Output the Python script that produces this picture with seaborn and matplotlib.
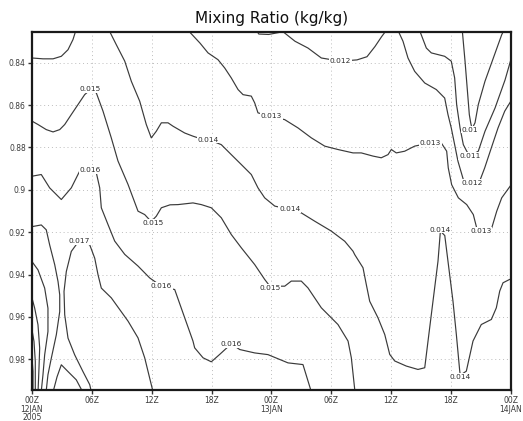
import matplotlib
matplotlib.use("Agg")
import matplotlib.pyplot as plt
import seaborn as sns
import pandas as pd

# ---- traced isolines of mixing ratio (kg/kg): time in hours since 00Z 12JAN2005, sigma level ----
iso_014_corner_t = [0.0, 1.10, 2.11, 2.94, 3.61, 4.11, 4.45]
iso_014_corner_s = [0.8378, 0.8382, 0.8382, 0.8370, 0.8339, 0.8291, 0.8240]

iso_015_t = [0.0, 0.60, 1.43, 2.11, 2.78, 3.28, 3.94, 4.61, 5.28, 5.84,
             6.45, 7.12, 7.95, 8.62, 9.63, 10.63, 11.30, 11.95, 12.46, 12.97,
             13.84, 14.64, 16.14, 16.98, 17.98, 18.98, 19.98, 20.99, 22.33, 23.33,
             23.85, 25.34, 26.00, 27.00, 27.67, 29.01, 30.68, 31.69, 32.02, 32.40]
iso_015_s = [0.8676, 0.8692, 0.8716, 0.8727, 0.8716, 0.8692, 0.8645, 0.8598, 0.8551, 0.8528,
             0.8543, 0.8629, 0.8755, 0.8864, 0.8975, 0.9101, 0.9117, 0.9150, 0.9125, 0.9085,
             0.9071, 0.9070, 0.9062, 0.9070, 0.9085, 0.9132, 0.9211, 0.9274, 0.9353, 0.9423,
             0.9455, 0.9455, 0.9431, 0.9431, 0.9463, 0.9557, 0.9636, 0.9714, 0.9793, 0.9960]

iso_016_t = [0.0, 0.93, 1.77, 2.94, 3.94, 4.78, 5.83, 6.45, 6.79, 6.95,
             7.62, 8.29, 9.30, 10.63, 11.80, 12.97, 14.31, 15.31, 16.14, 16.31,
             17.15, 17.98, 18.82, 19.98, 20.83, 22.33, 23.66, 25.67, 27.17, 28.05]
iso_016_s = [0.8936, 0.8928, 0.8991, 0.9046, 0.8991, 0.8912, 0.8905, 0.8920, 0.8991, 0.9085,
             0.9164, 0.9242, 0.9305, 0.9360, 0.9416, 0.9455, 0.9471, 0.9604, 0.9714, 0.9746,
             0.9793, 0.9812, 0.9777, 0.9727, 0.9754, 0.9770, 0.9778, 0.9817, 0.9825, 0.9960]

iso_017_t = [5.98, 5.79, 5.11, 4.28, 3.61, 3.28, 3.21, 3.44, 3.94, 4.70,
             5.79, 6.29, 6.62, 6.95, 7.95, 9.63, 10.63, 11.30, 12.17]
iso_017_s = [0.9960, 0.9920, 0.9858, 0.9779, 0.9700, 0.9590, 0.9480, 0.9386, 0.9291, 0.9242,
             0.9260, 0.9323, 0.9401, 0.9464, 0.9510, 0.9620, 0.9699, 0.9793, 0.9960]

iso_017_left_t = [0.0, 0.93, 1.43, 1.77, 2.28, 2.61, 2.78, 2.78, 2.44, 1.94, 1.60, 1.40]
iso_017_left_s = [0.9174, 0.9166, 0.9189, 0.9260, 0.9354, 0.9433, 0.9496, 0.9575, 0.9684, 0.9794, 0.9873, 0.9960]

iso_018_t = [0.0, 0.60, 1.27, 1.60, 1.60, 1.27, 1.10, 0.91]
iso_018_s = [0.9339, 0.9378, 0.9464, 0.9559, 0.9669, 0.9779, 0.9873, 0.9960]

iso_019_t = [0.0, 0.27, 0.60, 0.77, 0.70, 0.60]
iso_019_s = [0.9511, 0.9559, 0.9637, 0.9747, 0.9842, 0.9960]

iso_020_t = [0.0, 0.20, 0.33, 0.33]
iso_020_s = [0.9661, 0.9716, 0.9810, 0.9960]

iso_021_t = [0.0, 0.10, 0.10]
iso_021_s = [0.9794, 0.9857, 0.9960]

iso_bump_t = [2.08, 2.51, 2.94, 3.61, 4.44, 5.15]
iso_bump_s = [0.9960, 0.9883, 0.9826, 0.9858, 0.9897, 0.9960]

iso_014_t = [7.65, 8.45, 9.30, 9.96, 10.80, 11.46, 11.96, 12.46, 12.97, 13.64,
             14.14, 15.31, 16.14, 16.65, 17.70, 18.98, 19.98, 20.99, 21.99, 22.66,
             23.33, 24.34, 25.84, 27.00, 28.34, 30.01, 31.36, 32.19, 32.36, 33.19,
             33.52, 33.86, 34.69, 35.37, 35.87, 36.37, 37.53, 38.70, 39.38, 39.71,
             40.21, 40.71, 40.95, 41.39, 41.71, 42.21, 42.55, 42.89, 42.95, 43.55,
             44.22, 45.05, 46.06, 46.56, 46.90, 47.23, 47.90, 48.3]
iso_014_s = [0.8240, 0.8315, 0.8393, 0.8488, 0.8582, 0.8692, 0.8755, 0.8724, 0.8684, 0.8684,
             0.8700, 0.8732, 0.8747, 0.8755, 0.8763, 0.8787, 0.8834, 0.8881, 0.8928, 0.8991,
             0.9038, 0.9077, 0.9093, 0.9109, 0.9148, 0.9195, 0.9243, 0.9290, 0.9306, 0.9368,
             0.9447, 0.9526, 0.9604, 0.9683, 0.9777, 0.9808, 0.9832, 0.9848, 0.9840, 0.9714,
             0.9525, 0.9337, 0.9195, 0.9216, 0.9337, 0.9525, 0.9683, 0.9856, 0.9875, 0.9856,
             0.9714, 0.9636, 0.9612, 0.9557, 0.9478, 0.9439, 0.9423, 0.9420]

iso_013_t = [15.6, 16.85, 17.65, 18.65, 19.32, 19.98, 20.66, 21.16, 21.99, 22.33,
             22.66, 23.98, 25.34, 26.67, 28.01, 29.35, 30.68, 32.19, 33.02, 34.19,
             35.02, 35.70, 36.03, 36.53, 37.37, 38.37, 39.91, 41.04, 41.58, 41.74,
             42.08, 42.75, 43.59, 44.25, 44.59, 45.00, 46.10, 46.60, 47.10, 48.3]
iso_013_s = [0.8245, 0.8308, 0.8354, 0.8386, 0.8425, 0.8472, 0.8527, 0.8551, 0.8558, 0.8590,
             0.8637, 0.8653, 0.8669, 0.8708, 0.8755, 0.8794, 0.8810, 0.8826, 0.8826, 0.8841,
             0.8849, 0.8834, 0.8810, 0.8826, 0.8818, 0.8794, 0.8779, 0.8779, 0.8818, 0.8897,
             0.8976, 0.9038, 0.9070, 0.9117, 0.9180, 0.9199, 0.9180, 0.9101, 0.9038, 0.8960]

iso_012a_t = [22.40, 22.74, 23.73, 25.17, 26.37, 27.67, 29.01, 30.90, 32.59, 33.59, 34.39, 35.06, 35.65]
iso_012a_s = [0.8240, 0.8265, 0.8267, 0.8254, 0.8299, 0.8331, 0.8378, 0.8393, 0.8387, 0.8372, 0.8324, 0.8277, 0.8240]

iso_012b_t = [36.62, 37.20, 37.70, 38.37, 39.38, 40.54, 41.38, 41.71, 42.04, 42.38,
              42.71, 43.25, 44.09, 44.89, 45.39, 46.06, 46.73, 47.40, 48.3]
iso_012b_s = [0.8240, 0.8299, 0.8378, 0.8441, 0.8496, 0.8527, 0.8567, 0.8645, 0.8708, 0.8787,
              0.8865, 0.8952, 0.8967, 0.8959, 0.8897, 0.8802, 0.8708, 0.8629, 0.8560]

iso_011_t = [38.80, 39.54, 40.04, 41.38, 42.04, 42.38, 42.58, 42.92, 43.25, 43.59,
             43.92, 44.75, 45.42, 46.43, 47.43, 48.3]
iso_011_s = [0.8240, 0.8331, 0.8354, 0.8370, 0.8393, 0.8472, 0.8598, 0.8708, 0.8787, 0.8818,
             0.8841, 0.8818, 0.8724, 0.8614, 0.8482, 0.8340]

iso_010_t = [43.13, 43.42, 43.69, 43.85, 43.99, 44.12, 44.42, 44.75, 45.42, 46.26, 47.10, 47.40]
iso_010_s = [0.8240, 0.8393, 0.8551, 0.8645, 0.8684, 0.8712, 0.8684, 0.8598, 0.8488, 0.8378, 0.8268, 0.8240]

# contour labels
label_text = ['0.015', '0.016', '0.014', '0.013', '0.012', '0.015', '0.017', '0.016', '0.015',
              '0.016', '0.014', '0.014', '0.014', '0.013', '0.013', '0.01', '0.011', '0.012']
label_t = [5.84, 5.83, 17.70, 23.98, 30.91, 12.13, 4.78, 12.97, 23.83,
           19.98, 25.84, 40.88, 42.89, 45.0, 39.91, 43.92, 43.92, 44.09]
label_s = [0.8524, 0.8905, 0.8763, 0.8653, 0.8393, 0.9156, 0.9242, 0.9455, 0.9463,
           0.9727, 0.9093, 0.9188, 0.9884, 0.9193, 0.8779, 0.8716, 0.8841, 0.8967]

# axes ticks
x_ticks = [0, 6, 12, 18, 24, 30, 36, 42, 48]
x_tick_labels = ['00Z\n12JAN\n2005', '06Z', '12Z', '18Z', '00Z\n13JAN', '06Z', '12Z', '18Z', '00Z\n14JAN']
y_ticks = [0.84, 0.86, 0.88, 0.90, 0.92, 0.94, 0.96, 0.98]
y_tick_labels = ['0.84', '0.86', '0.88', '0.9', '0.92', '0.94', '0.96', '0.98']

title = 'Mixing Ratio (kg/kg)'

# ---- figure ----
sns.set_style("white")
plt.rcParams['font.family'] = ['DejaVu Sans']

fig = plt.figure(figsize=(5.23, 4.21), dpi=100)
ax = fig.add_axes([32 / 523, 1 - 390 / 421, (510.7 - 32) / 523, (390 - 31.5) / 421])

lines = [
    (iso_014_corner_t, iso_014_corner_s), (iso_015_t, iso_015_s), (iso_016_t, iso_016_s),
    (iso_017_t, iso_017_s), (iso_017_left_t, iso_017_left_s), (iso_018_t, iso_018_s),
    (iso_019_t, iso_019_s), (iso_020_t, iso_020_s), (iso_021_t, iso_021_s),
    (iso_bump_t, iso_bump_s), (iso_014_t, iso_014_s), (iso_013_t, iso_013_s),
    (iso_012a_t, iso_012a_s), (iso_012b_t, iso_012b_s), (iso_011_t, iso_011_s),
    (iso_010_t, iso_010_s),
]
for t, s in lines:
    df = pd.DataFrame({'t': t, 's': s})
    sns.lineplot(data=df, x='t', y='s', sort=False, estimator=None, ax=ax,
                 color='#3a3a3a', linewidth=0.85, legend=False)

for txt, t, s in zip(label_text, label_t, label_s):
    ax.text(t, s, txt, fontsize=5.3, ha='center', va='center', color='#2a2a2a', zorder=5,
            bbox=dict(boxstyle='square,pad=0.12', facecolor='white', edgecolor='none'))

ax.set_xlim(0, 48)
ax.set_ylim(0.9945, 0.8253)
ax.set_xticks(x_ticks)
ax.set_xticklabels(x_tick_labels, fontsize=5.5, linespacing=0.9, color='#3a3a3a')
ax.set_yticks(y_ticks)
ax.set_yticklabels(y_tick_labels, fontsize=5.5, color='#3a3a3a')
ax.set_xlabel('')
ax.set_ylabel('')
ax.tick_params(axis='both', which='both', direction='out', length=3, width=1,
               color='#333333', pad=1.5, bottom=True, left=True)

ax.grid(True, color='#bdbdbd', linestyle=(0, (1, 3)), linewidth=0.7)
for sp in ax.spines.values():
    sp.set_visible(True)
    sp.set_color('#1a1a1a')
    sp.set_linewidth(1.6)

ax.set_title(title, fontsize=11, pad=6, color='#111111')

fig.savefig('out.png', dpi=100)
